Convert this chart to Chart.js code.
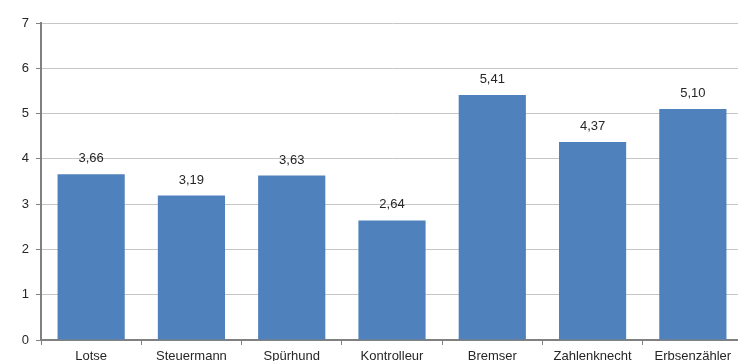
<!DOCTYPE html>
<html>
<head>
<meta charset="utf-8">
<script src="https://cdn.jsdelivr.net/npm/chart.js@4/dist/chart.umd.min.js"></script>
<style>
html,body{margin:0;padding:0;overflow:hidden;background:#fff;width:738px;height:361px;}
#wrap{width:750px;height:361px;}
</style>
</head>
<body>
<div id="wrap"><canvas id="c" width="750" height="361"></canvas></div>
<script>
const categories = ["Lotse","Steuermann","Spürhund","Kontrolleur","Bremser","Zahlenknecht","Erbsenzähler"];
const values = [3.66, 3.19, 3.63, 2.64, 5.41, 4.37, 5.10];
const yTicks = [0,1,2,3,4,5,6,7];

const labelPlugin = {
  id: 'barLabels',
  afterDatasetsDraw(chart) {
    const ctx = chart.ctx;
    const meta = chart.getDatasetMeta(0);
    ctx.save();
    ctx.font = '13px "Liberation Sans", Arial, sans-serif';
    ctx.fillStyle = '#262626';
    ctx.textAlign = 'center';
    ctx.textBaseline = 'alphabetic';
    meta.data.forEach((bar, i) => {
      const txt = values[i].toFixed(2).replace('.', ',');
      ctx.fillText(txt, bar.x, bar.y - 12);
    });
    ctx.restore();
  }
};

new Chart(document.getElementById('c'), {
  type: 'bar',
  data: {
    labels: categories,
    datasets: [{
      data: values,
      backgroundColor: '#4F81BD',
      borderWidth: 0,
      barPercentage: 0.67,
      categoryPercentage: 1
    }]
  },
  options: {
    responsive: false,
    animation: false,
    devicePixelRatio: 1,
    layout: { padding: { top: 23, right: 7, left: 0, bottom: 0 } },
    plugins: { legend: { display: false }, tooltip: { enabled: false } },
    scales: {
      x: {
        grid: { drawOnChartArea: false, tickLength: 5, color: '#808080', lineWidth: 1 },
        border: { color: '#808080', width: 2 },
        ticks: { color: '#262626', font: { family: '"Liberation Sans", Arial, sans-serif', size: 13 }, padding: 4, maxRotation: 0, autoSkip: false },
        afterFit(s) { s.height = 21; }
      },
      y: {
        min: 0, max: 7,
        afterBuildTicks(s) { s.ticks = yTicks.map(v => ({ value: v })); },
        grid: { color: '#C6C6C6', lineWidth: 1, tickLength: 5, tickColor: '#808080' },
        border: { color: '#808080', width: 2 },
        ticks: { color: '#262626', font: { family: '"Liberation Sans", Arial, sans-serif', size: 13 }, padding: 7 },
        afterFit(s) { s.width = 41; }
      }
    }
  },
  plugins: [labelPlugin]
});
</script>
</body>
</html>
